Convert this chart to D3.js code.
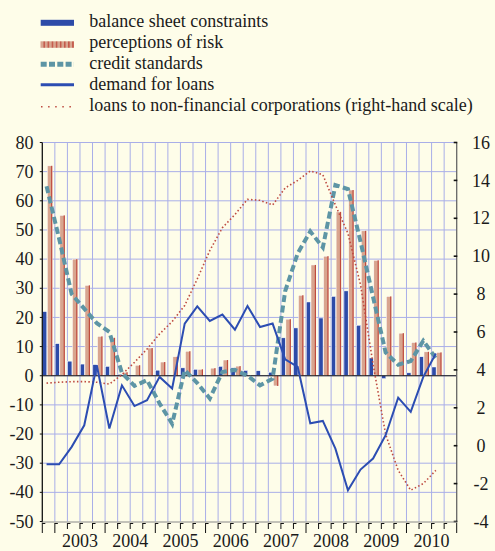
<!DOCTYPE html>
<html>
<head>
<meta charset="utf-8">
<script src="https://cdn.jsdelivr.net/npm/d3@7"></script>
<style>
html,body{margin:0;padding:0;background:#fefde9;}
svg{display:block;}
text{font-family:"Liberation Serif","Times New Roman",serif;fill:#1a1a1a;}
</style>
</head>
<body>
<svg id="chart" width="495" height="551"></svg>
<script>
// ---- data ----
const quarters = ["2002Q4",
 "2003Q1","2003Q2","2003Q3","2003Q4",
 "2004Q1","2004Q2","2004Q3","2004Q4",
 "2005Q1","2005Q2","2005Q3","2005Q4",
 "2006Q1","2006Q2","2006Q3","2006Q4",
 "2007Q1","2007Q2","2007Q3","2007Q4",
 "2008Q1","2008Q2","2008Q3","2008Q4",
 "2009Q1","2009Q2","2009Q3","2009Q4",
 "2010Q1","2010Q2","2010Q3","2010Q4"];
const years = ["2003","2004","2005","2006","2007","2008","2009","2010"];
const balanceSheet = [22, 11, 5, 4, 3.8, 3.2, 0.5, 0, 0, 1.9, 0, 2.7, 2.2, 0, 3.2, 2.7,
 1.8, 1.7, 1.2, 13, 16.4, 25.3, 19.8, 27.2, 29.1, 17.3, 6.1, -1, 0, 1, 6.5, 3];
const perceptions = [72, 55, 40, 31, 13.5, 13, 1.2, 3.6, 9.5, 4.7, 6.5, 8.4, 2.2, 2.6, 5.4, 3.3,
 0, 0, -3.5, 19.4, 27.6, 38, 41, 56.2, 63.7, 49.7, 39.6, 27.2, 14.6, 11.4, 8.2, 8];
const creditStandards = [65, 47, 28, 23, 18, 15, 1, -3.5, -1.5, -9.5, -16.5, 1.9, -2.5, -7.8, 1.3, 2,
 0, -3.3, -1, 29, 42, 49.5, 44, 65.4, 64, 46, 27, 8, 3.8, 5, 12, 6];
const demand = [-30.4, -30.4, -24.4, -17, 3.6, -18.1, -3.3, -10.4, -8.4, -0.4, -4.4, 17.9, 23.8, 18.8, 21, 15.8,
 23.9, 16.7, 17.9, 5.6, 3, -16.3, -15.5, -25, -39.3, -32.2, -28.4, -20.4, -7.5, -12.4, -0.4, 7.6];
const loansNFC = [3.3, 3.35, 3.38, 3.38, 3.35, 3.25, 3.75, 4.4, 5.1, 5.9, 6.55, 7.4, 8.8, 10.3, 11.5, 12.2,
 13.0, 12.95, 12.7, 13.6, 14.0, 14.5, 14.3, 12.7, 11.2, 8.5, 4.3, 0.6, -1.3, -2.35, -2.0, -1.3];
const leftTicks = [80,70,60,50,40,30,20,10,0,-10,-20,-30,-40,-50];
const rightTicks = [16,14,12,10,8,6,4,2,0,-2,-4];
const legendItems = ["balance sheet constraints","perceptions of risk","credit standards",
 "demand for loans","loans to non-financial corporations (right-hand scale)"];

// ---- styles ----
const C = {
  bg:"#fefde9", grid:"#a9aee8", blue:"#2d4ba8", line:"#2c4db2", pink:"#d8a58f",
  stripe:"#c04a3c", teal:"#5d95a5", dot:"#be4a40"
};

const svg = d3.select("#chart");
svg.append("rect").attr("width",495).attr("height",551).attr("fill",C.bg);

const defs = svg.append("defs");
const pat = defs.append("pattern").attr("id","stripes").attr("patternUnits","userSpaceOnUse")
  .attr("width",4.1).attr("height",10);
pat.append("rect").attr("width",4.1).attr("height",10).attr("fill",C.pink);
pat.append("rect").attr("x",2.6).attr("width",1.3).attr("height",10).attr("fill",C.stripe);

const x = d3.scaleBand().domain(quarters).range([42.3,456.7]).paddingInner(0).paddingOuter(0);
const yL = d3.scaleLinear().domain([-50,80]).range([521.5,142.5]);
const yR = d3.scaleLinear().domain([-4,16]).range([521.5,142.5]);
const bw = x.bandwidth();
const pL = 42.3, pR = 456.7, pT = yL(80), pB = yL(-50);

// grid
const g = svg.append("g");
g.selectAll("line.h").data(leftTicks.filter(d=>d>-50)).join("line")
  .attr("x1",pL).attr("x2",pR).attr("y1",d=>yL(d)).attr("y2",d=>yL(d))
  .attr("stroke",C.grid).attr("stroke-width",1);
g.selectAll("line.v").data(quarters.slice(1)).join("line")
  .attr("x1",d=>x(d)).attr("x2",d=>x(d)).attr("y1",pT).attr("y2",pB)
  .attr("stroke",C.grid).attr("stroke-width",1);

// bars
const bars = svg.append("g");
bars.selectAll("rect.b").data(balanceSheet).join("rect")
  .attr("x",(d,i)=>x(quarters[i])+0.3).attr("width",4.2)
  .attr("y",d=>yL(Math.max(0,d))).attr("height",d=>Math.abs(yL(0)-yL(d)))
  .attr("fill",C.blue).attr("stroke","#fff").attr("stroke-width",0.5);
bars.selectAll("rect.p").data(perceptions).join("rect")
  .attr("x",(d,i)=>x(quarters[i])+5).attr("width",5)
  .attr("y",d=>yL(Math.max(0,d))).attr("height",d=>Math.abs(yL(0)-yL(d)))
  .attr("fill",C.pink).attr("stroke","#fff").attr("stroke-width",0.5);
bars.selectAll("rect.s").data(perceptions).join("rect")
  .attr("x",(d,i)=>x(quarters[i])+8.8).attr("width",1.2)
  .attr("y",d=>yL(Math.max(0,d))).attr("height",d=>Math.abs(yL(0)-yL(d)))
  .attr("fill",C.stripe);

// zero line
svg.append("line").attr("x1",pL).attr("x2",pR).attr("y1",yL(0)).attr("y2",yL(0))
  .attr("stroke","#111").attr("stroke-width",1.2);

// lines
const px = i => x(quarters[i]) + bw*0.34;
const lineL = d3.line().x((d,i)=>px(i)).y(d=>yL(d));
const lineR = d3.line().x((d,i)=>px(i)).y(d=>yR(d));
svg.append("path").attr("d",lineL(creditStandards)).attr("fill","none")
  .attr("stroke",C.teal).attr("stroke-width",4).attr("stroke-dasharray","7,3.5");
svg.append("path").attr("d",lineR(loansNFC)).attr("fill","none")
  .attr("stroke",C.dot).attr("stroke-width",1.6).attr("stroke-dasharray","1.5,2.3");
svg.append("path").attr("d",lineL(demand)).attr("fill","none")
  .attr("stroke",C.line).attr("stroke-width",2).attr("stroke-linejoin","miter");

// left axis
svg.append("line").attr("x1",pL).attr("x2",pL).attr("y1",pT).attr("y2",pB+1)
  .attr("stroke","#111").attr("stroke-width",1.3);
svg.selectAll("line.lt").data(leftTicks).join("line")
  .attr("x1",pL-2.5).attr("x2",pL).attr("y1",d=>yL(d)).attr("y2",d=>yL(d))
  .attr("stroke","#111").attr("stroke-width",1);
svg.selectAll("text.lt").data(leftTicks).join("text")
  .attr("x",33.5).attr("y",d=>yL(d)).attr("dy","0.34em").attr("text-anchor","end")
  .attr("font-size",18).text(d=>d);

// right axis
svg.append("line").attr("x1",pR).attr("x2",pR).attr("y1",pT).attr("y2",pB+1)
  .attr("stroke","#666").attr("stroke-width",1.3);
svg.selectAll("line.rt").data(rightTicks).join("line")
  .attr("x1",pR-3).attr("x2",pR+0.6).attr("y1",d=>yR(d)).attr("y2",d=>yR(d))
  .attr("stroke","#111").attr("stroke-width",1.6);
svg.selectAll("text.rt").data(rightTicks).join("text")
  .attr("x",481).attr("y",d=>yR(d)).attr("dy","0.34em").attr("text-anchor","middle")
  .attr("font-size",18).text(d=>d);

// bottom axis
svg.append("line").attr("x1",pL).attr("x2",pR).attr("y1",pB+0.5).attr("y2",pB+0.5)
  .attr("stroke","#888").attr("stroke-width",1);
const tickPos = quarters.map(q=>x(q)).concat([pR]);
const isYear = i => i>0 && i<quarters.length && quarters[i].endsWith("Q1");
const tk = svg.append("g").attr("stroke","#111").attr("stroke-width",1);
tickPos.forEach((p,i)=>{
  const len = (isYear(i) || i===0 || i===quarters.length) ? 10 : 6;
  tk.append("line").attr("x1",p).attr("x2",p).attr("y1",pB+1.5).attr("y2",pB+1.5+len);
  if (i < quarters.length) tk.append("line").attr("x1",p).attr("x2",p+3).attr("y1",pB+2).attr("y2",pB+2);
});
svg.selectAll("text.yr").data(years).join("text")
  .attr("x",yv=>x(yv+"Q2")+bw)
  .attr("y",546.5).attr("text-anchor","middle").attr("font-size",18).text(d=>d);

// legend
const lg = svg.append("g");
const ly = i => 27.3 + i*21;
lg.append("rect").attr("x",40.7).attr("y",ly(0)-7.5).attr("width",33.3).attr("height",6).attr("fill",C.blue);
lg.append("rect").attr("x",40.7).attr("y",ly(1)-7).attr("width",33.3).attr("height",6.5).attr("fill","url(#stripes)");
lg.append("line").attr("x1",40.7).attr("x2",74).attr("y1",ly(2)-5).attr("y2",ly(2)-5)
  .attr("stroke",C.teal).attr("stroke-width",5).attr("stroke-dasharray","6,2.3");
lg.append("line").attr("x1",40.7).attr("x2",74).attr("y1",ly(3)-5.5).attr("y2",ly(3)-5.5)
  .attr("stroke",C.line).attr("stroke-width",3);
lg.append("line").attr("x1",41).attr("x2",74).attr("y1",ly(4)-4.5).attr("y2",ly(4)-4.5)
  .attr("stroke",C.dot).attr("stroke-width",1.5).attr("stroke-dasharray","1.5,5.6");
lg.selectAll("text").data(legendItems).join("text")
  .attr("x",89.3).attr("y",(d,i)=>ly(i)).attr("font-size",18).text(d=>d);
</script>
</body>
</html>
